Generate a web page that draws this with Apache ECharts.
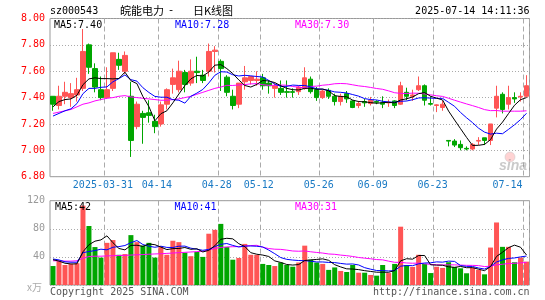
<!DOCTYPE html>
<html><head><meta charset="utf-8">
<script src="https://cdn.jsdelivr.net/npm/echarts@6/dist/echarts.min.js"></script>
<style>html,body{margin:0;padding:0;background:#fff}#c{width:545px;height:300px}</style>
</head><body><div id="c"></div>
<script>
const dates = ['2025-03-18','2025-03-19','2025-03-20','2025-03-21','2025-03-24','2025-03-25','2025-03-26','2025-03-27','2025-03-28',
'2025-03-31','2025-04-01','2025-04-02','2025-04-03','2025-04-07','2025-04-08','2025-04-09','2025-04-10','2025-04-11',
'2025-04-14','2025-04-15','2025-04-16','2025-04-17','2025-04-18','2025-04-21','2025-04-22','2025-04-23','2025-04-24','2025-04-25',
'2025-04-28','2025-04-29','2025-04-30','2025-05-06','2025-05-07','2025-05-08','2025-05-09',
'2025-05-12','2025-05-13','2025-05-14','2025-05-15','2025-05-16','2025-05-19','2025-05-20','2025-05-21','2025-05-22','2025-05-23',
'2025-05-26','2025-05-27','2025-05-28','2025-05-29','2025-05-30','2025-06-03','2025-06-04','2025-06-05','2025-06-06',
'2025-06-09','2025-06-10','2025-06-11','2025-06-12','2025-06-13','2025-06-16','2025-06-17','2025-06-18','2025-06-19','2025-06-20',
'2025-06-23','2025-06-24','2025-06-25','2025-06-26','2025-06-27','2025-06-30','2025-07-01','2025-07-02','2025-07-03','2025-07-04',
'2025-07-07','2025-07-08','2025-07-09','2025-07-10','2025-07-11','2025-07-14'];
const tickDates = ['2025-03-31','2025-04-14','2025-04-28','2025-05-12','2025-05-26','2025-06-09','2025-06-23','2025-07-14'];
const tickLabels = ['2025-03-31','04-14','04-28','05-12','05-26','06-09','06-23','07-14'];

const opens = [7.41,7.34,7.41,7.40,7.42,7.47,7.80,7.62,7.46,7.40, 7.47,7.69,7.60,7.41,7.18,7.28,7.285,7.22,7.20,7.35,
7.50,7.46,7.59,7.51,7.60,7.57,7.60,7.75,7.675,7.555, 7.41,7.35,7.52,7.53,7.53,7.55,7.51,7.47,7.47,7.445,
7.445,7.445,7.47,7.54,7.46,7.40,7.455,7.41,7.37,7.43, 7.375,7.34,7.37,7.355,7.37,7.36,7.36,7.375,7.35,7.44,
7.41,7.46,7.49,7.355,7.34,7.325,7.075,7.07,7.045,7.015, 7.01,7.07,7.095,7.075,7.32,7.425,7.35,7.40,7.405,7.41];
const closes = [7.35,7.41,7.44,7.43,7.46,7.75,7.63,7.48,7.40,7.46, 7.74,7.645,7.72,7.075,7.35,7.25,7.265,7.18,7.345,7.46,
7.55,7.60,7.50,7.60,7.59,7.53,7.75,7.76,7.62,7.44, 7.34,7.51,7.55,7.56,7.54,7.49,7.49,7.49,7.44,7.44,
7.44,7.48,7.55,7.445,7.40,7.45,7.41,7.37,7.41,7.39, 7.325,7.355,7.36,7.38,7.365,7.35,7.365,7.34,7.49,7.41,
7.42,7.49,7.38,7.35,7.345,7.35,7.07,7.04,7.02,7.01, 7.045,7.075,7.075,7.20,7.41,7.31,7.40,7.39,7.41,7.49];
const lows = [7.30,7.31,7.35,7.33,7.37,7.45,7.58,7.44,7.38,7.39, 7.45,7.61,7.58,6.95,7.16,7.05,7.21,7.13,7.18,7.31,
7.43,7.44,7.44,7.49,7.51,7.51,7.56,7.59,7.45,7.41, 7.31,7.32,7.46,7.50,7.49,7.46,7.43,7.40,7.42,7.40,
7.40,7.42,7.46,7.43,7.375,7.39,7.39,7.34,7.34,7.36, 7.32,7.32,7.33,7.34,7.35,7.32,7.33,7.32,7.345,7.38,
7.375,7.45,7.34,7.34,7.29,7.30,7.03,7.025,7.00,7.00, 7.00,7.04,7.04,7.04,7.25,7.28,7.31,7.36,7.37,7.40];
const highs = [7.41,7.49,7.52,7.51,7.55,7.92,7.81,7.66,7.56,7.63, 7.74,7.74,7.75,7.52,7.37,7.30,7.38,7.27,7.37,7.47,
7.62,7.68,7.61,7.69,7.71,7.61,7.81,7.79,7.69,7.57, 7.46,7.51,7.64,7.56,7.60,7.58,7.53,7.51,7.53,7.53,
7.47,7.49,7.63,7.56,7.48,7.46,7.47,7.43,7.43,7.45, 7.38,7.375,7.39,7.405,7.38,7.41,7.385,7.38,7.52,7.475,
7.46,7.56,7.50,7.41,7.35,7.375,7.075,7.085,7.075,7.03, 7.055,7.10,7.095,7.20,7.49,7.44,7.49,7.44,7.44,7.57];

const ma5 = [7.33,7.37,7.385,7.39,7.418,7.498,7.542,7.55,7.544,7.544, 7.542,7.545,7.593,7.528,7.506,7.408,7.332,7.224,7.278,7.30,
7.36,7.427,7.491,7.542,7.568,7.564,7.594,7.646,7.65,7.62, 7.582,7.534,7.492,7.48,7.50,7.53,7.526,7.514,7.49,7.47,
7.46,7.458,7.47,7.471,7.463,7.465,7.451,7.415,7.408,7.406, 7.381,7.37,7.368,7.362,7.357,7.362,7.364,7.36,7.382,7.391,
7.405,7.43,7.438,7.41,7.396,7.382,7.298,7.23,7.164,7.098, 7.037,7.038,7.045,7.081,7.161,7.214,7.279,7.342,7.384,7.40];
const ma10 = [7.26,7.28,7.30,7.315,7.355,7.43,7.47,7.47,7.478,7.481, 7.52,7.544,7.572,7.536,7.525,7.475,7.439,7.409,7.403,7.403,
7.384,7.38,7.358,7.41,7.434,7.462,7.511,7.569,7.596,7.594, 7.573,7.564,7.569,7.565,7.56,7.556,7.53,7.503,7.485,7.485,
7.495,7.492,7.492,7.481,7.467,7.463,7.455,7.443,7.44,7.435, 7.423,7.411,7.392,7.385,7.382,7.372,7.367,7.364,7.372,7.374,
7.384,7.397,7.399,7.396,7.394,7.394,7.364,7.334,7.287,7.247, 7.21,7.168,7.138,7.123,7.13,7.126,7.159,7.194,7.233,7.281];
const ma30 = [7.28,7.29,7.30,7.31,7.33,7.35,7.36,7.375,7.385,7.395, 7.40,7.41,7.415,7.405,7.40,7.395,7.39,7.385,7.38,7.38,
7.385,7.39,7.40,7.41,7.425,7.44,7.455,7.47,7.48,7.493, 7.492,7.496,7.499,7.504,7.506,7.498,7.493,7.493,7.495,7.494,
7.484,7.479,7.473,7.485,7.487,7.494,7.498,7.505,7.507,7.505, 7.497,7.489,7.484,7.477,7.469,7.463,7.451,7.437,7.432,7.431,
7.434,7.433,7.428,7.421,7.414,7.409,7.395,7.380,7.366,7.352, 7.339,7.325,7.309,7.301,7.302,7.297,7.297,7.297,7.297,7.30];

const vol = [27,34,28.5,30,31,113,84,54,39,60, 64,43,44,71,61,56,60,39,54,43,
63,61,46,41,47,40,73,78.5,87,54, 36,38.5,58.5,43,43,30,28.5,27,32,28.5,
26,32,56,36,32,30,21.5,25,20,18.5, 28.5,17.5,17.5,14.3,13.3,28.5,17,30,83,28.5,
25.7,43,30,17,26,24.3,32.4,25.7,23.8,16.7, 24.8,21.4,15.2,53.3,89,54.3,54.3,32.4,39,33.3];
const vma5 = [36,34,31,30,30.1,47.3,57.3,62.4,64.2,70, 60.2,52,50,56.4,56.6,55,58.4,57.4,54,50.4,
51.8,52,53.4,50.8,51.6,47,49.4,55.9,65.1,66.5, 65.7,58.8,54.8,46,43.8,42.6,40.6,34.3,32.1,29.2,
28.4,29.1,34.9,35.7,36.4,37.2,35.1,28.9,25.7,23, 22.7,21.9,20.4,19.3,18.2,18.2,18.1,20.6,34.4,37.4,
36.8,42,42,28.8,28.3,28.1,25.9,25.1,26.4,24.6, 24.7,22.5,20.4,26.3,40.7,46.6,53.2,56.7,53.8,42.7];
const vma10 = [37,35.7,33,32.4,32.4,46,47.6,49,51,50.05, 53.75,54.65,56.2,60.3,63.3,57.6,55.2,53.7,55.2,53.5,
53.4,55.2,55.4,52.4,51,49.4,50.7,54.65,57.95,59.05, 56.35,54.1,55.35,55.55,55.15,54.15,49.7,44.55,39.05,36.5,
35.5,34.85,34.6,33.9,32.8,32.8,32.1,31.9,30.7,29.7, 29.95,28.5,24.65,22.5,20.6,20.5,20,20.5,26.8,27.8,
27.5,30.1,31.3,31.6,32.9,32.5,34,33.6,27.6,26.5, 26.4,24.2,22.7,26.4,32.7,35.7,37.9,38.5,40,41.2];
const vma30 = [34.5,34.3,34,34,34.5,38,40.5,41,41,41.4, 41.7,42,42.2,42.6,43,43.3,43.8,44.2,44.5,45,
45.5,46,46.5,47,47.5,48,50,52,53.5,54.2, 54.5,54.65,55.65,56.08,56.48,53.72,51.87,50.97,50.73,49.68,
48.42,48.05,48.45,47.28,46.32,45.45,44.17,43.7,42.57,41.75, 40.6,39.15,38.2,37.31,36.19,35.8,33.94,32.32,32.19,31.34,
30.99,31.14,30.19,29.33,28.76,28.57,28.7,28.66,28.38,27.99, 27.95,27.6,26.24,26.81,28.71,29.52,30.62,30.86,31.5,31.99];

const legendPrice = ['MA5:7.40','MA10:7.28','MA30:7.30'];
const legendVol = ['MA5:42','MA10:41','MA30:31'];

const RED = '#ff5555', GREEN = '#00a600', BLUE_T = '#1a7ac4';
const MONO = '"DejaVu Sans Mono","Liberation Mono",monospace';
const CJK = '"Noto Sans CJK SC","Noto Sans",sans-serif';
const GL = 50, GW = 479.5;

const chart = echarts.init(document.getElementById('c'), null, {renderer: 'canvas'});
const isTick = (idx, val) => tickDates.indexOf(val) >= 0;
const splitV = {show: true, interval: isTick, lineStyle: {color: '#aaa', type: [5, 3], width: 1}};
const splitH = {show: true, lineStyle: {color: '#aaa', type: [1, 2], width: 1}};

const kData = dates.map((d, i) => [opens[i], closes[i], lows[i], highs[i]]);
const volData = vol.map((v, i) => ({value: v, itemStyle: {color: closes[i] >= opens[i] ? RED : GREEN}}));

function lineSeries(data, color, xi, yi) {
  return {type: 'line', data: data, xAxisIndex: xi, yAxisIndex: yi, symbol: 'none', showSymbol: false,
    lineStyle: {color: color, width: 1}, silent: true, z: 3, animation: false};
}

function txt(text, x, y, color, font, align) {
  return {type: 'text', x: x, y: y, z: 100, silent: true,
    style: {text: text, fill: color, font: font, align: align || 'left', verticalAlign: 'middle',
      textAlign: align || 'left', textVerticalAlign: 'middle'}};
}

chart.setOption({
  animation: false,
  backgroundColor: '#fff',
  grid: [
    {left: GL, top: 18.5, width: GW, height: 158.2, show: true, borderColor: '#999', borderWidth: 1, backgroundColor: 'transparent'},
    {left: GL, top: 200.7, width: GW, height: 84.3, show: true, borderColor: '#999', borderWidth: 1, backgroundColor: 'transparent'}
  ],
  xAxis: [
    {type: 'category', gridIndex: 0, data: dates, boundaryGap: true,
      axisLine: {show: false}, axisTick: {show: false}, splitLine: splitV,
      axisLabel: {show: true, interval: isTick, margin: 4,
        formatter: function (val) {
          const i = tickDates.indexOf(val);
          if (i < 0) return '';
          return (i === tickDates.length - 1 ? '{b|' : '{a|') + tickLabels[i] + '}';
        },
        rich: {
          a: {color: BLUE_T, fontFamily: MONO, fontSize: 10, padding: [0, 8, 0, 0]},
          b: {color: BLUE_T, fontFamily: MONO, fontSize: 10, padding: [0, 38, 0, 0]}
        }}},
    {type: 'category', gridIndex: 1, data: dates, boundaryGap: true,
      axisLine: {show: false}, axisTick: {show: false}, axisLabel: {show: false}, splitLine: splitV}
  ],
  yAxis: [
    {type: 'value', gridIndex: 0, min: 6.8, max: 8.0, interval: 0.2, scale: true,
      axisLine: {show: false}, axisTick: {show: false}, splitLine: splitH,
      axisLabel: {color: '#ff0000', fontFamily: MONO, fontSize: 10, margin: 5, formatter: v => v.toFixed(2)}},
    {type: 'value', gridIndex: 1, min: 0, max: 120, interval: 40,
      axisLine: {show: false}, axisTick: {show: false}, splitLine: splitH,
      axisLabel: {color: '#999', fontFamily: MONO, fontSize: 10, margin: 5,
        formatter: v => v === 0 ? '{u|x万}' : String(v),
        rich: {u: {color: '#aaa', fontFamily: CJK, fontSize: 10, padding: [4, 3, 0, 0]}}}}
  ],
  series: [
    {type: 'candlestick', xAxisIndex: 0, yAxisIndex: 0, data: kData, barWidth: 5,
      itemStyle: {color: RED, color0: GREEN, borderColor: RED, borderColor0: GREEN, borderWidth: 1}},
    lineSeries(ma30, '#ff00ff', 0, 0),
    lineSeries(ma10, '#0000ff', 0, 0),
    lineSeries(ma5, '#000000', 0, 0),
    {type: 'bar', xAxisIndex: 1, yAxisIndex: 1, data: volData, barWidth: 5},
    lineSeries(vma30, '#ff00ff', 1, 1),
    lineSeries(vma10, '#0000ff', 1, 1),
    lineSeries(vma5, '#000000', 1, 1)
  ],
  graphic: [
    txt('sz000543', 50, 11, '#000', '10px ' + MONO),
    txt('皖能电力', 120, 10.5, '#000', '11px ' + CJK),
    txt('-', 171, 10.5, '#000', '11px ' + MONO, 'center'),
    txt('日K线图', 193, 10.5, '#000', '11px ' + CJK),
    txt('2025-07-14 14:11:36', 529.5, 11.5, '#000', '10px ' + MONO, 'right'),
    txt(legendPrice[0], 54, 25, '#000', '10px ' + MONO),
    txt(legendPrice[1], 175, 25, '#0000ff', '10px ' + MONO),
    txt(legendPrice[2], 295, 25, '#ff00ff', '10px ' + MONO),
    txt(legendVol[0], 55, 207.5, '#000', '10px ' + MONO),
    txt(legendVol[1], 174.5, 207.5, '#0000ff', '10px ' + MONO),
    txt(legendVol[2], 295, 207.5, '#ff00ff', '10px ' + MONO),
    txt('Copyright 2025 SINA.COM', 50, 292.5, '#555', '10px ' + MONO),
    txt('http://finance.sina.com.cn', 529.5, 292.5, '#555', '10px ' + MONO, 'right'),
    {type: 'circle', shape: {cx: 510, cy: 157, r: 5}, z: 1, silent: true,
      style: {fill: 'rgba(255,130,130,0.35)', stroke: 'rgba(200,200,200,0.5)', lineWidth: 1}},
    txt('sina', 513, 166, 'rgba(150,150,150,0.5)', 'italic bold 14px "Liberation Sans",sans-serif', 'center')
  ]
});
</script>
</body></html>
